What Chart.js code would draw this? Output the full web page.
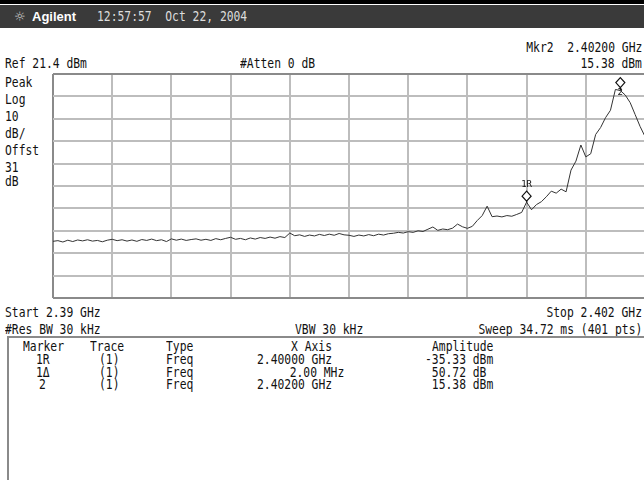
<!DOCTYPE html>
<html>
<head>
<meta charset="utf-8">
<script src="https://cdn.jsdelivr.net/npm/chart.js@4"></script>
<style>
  body { margin: 0; width: 644px; height: 480px; overflow: hidden; background: #fff; position: relative; }
  #top { position: absolute; left: 0; top: 0; width: 644px; height: 4px; background: #000; }
  #band { position: absolute; left: 0; top: 5px; width: 644px; height: 23px; background: #3a3a3a; }
  .t, .r { position: absolute; font-family: "DejaVu Sans Mono", monospace; font-size: 14px; line-height: 14px;
           white-space: pre; color: #111; transform: scaleX(0.81); }
  .t { transform-origin: left center; }
  .r { right: 2px; transform-origin: right center; }
  #logo { position: absolute; left: 14px; top: 9px; color: #ccc; font: 13px "DejaVu Sans"; }
  #brand { position: absolute; left: 32px; top: 9px; color: #fff; font: bold 13px "Liberation Sans", sans-serif; }
  #box { position: absolute; left: 7px; top: 336px; width: 650px; height: 160px; border: 2px solid #8a8a8a; box-sizing: border-box; }
  canvas { position: absolute; left: 0; top: 0; }
</style>
</head>
<body>
<div id="top"></div>
<div id="band"></div>
<div id="logo">☼</div>
<div id="brand">Agilent</div>
<div class="t" style="left:97px;top:9px;color:#ddd">12:57:57  Oct 22, 2004</div>

<div class="r" style="top:40px">Mkr2  2.40200 GHz</div>
<div class="t" style="left:5px;top:56px">Ref 21.4 dBm</div>
<div class="t" style="left:240px;top:56px">#Atten 0 dB</div>
<div class="r" style="top:56px">15.38 dBm</div>

<div class="t" style="left:5px;top:75px">Peak</div>
<div class="t" style="left:5px;top:92px">Log</div>
<div class="t" style="left:5px;top:109px">10</div>
<div class="t" style="left:5px;top:126px">dB/</div>
<div class="t" style="left:5px;top:143px">Offst</div>
<div class="t" style="left:5px;top:160px">31</div>
<div class="t" style="left:5px;top:174px">dB</div>

<div class="t" style="left:5px;top:305px">Start 2.39 GHz</div>
<div class="r" style="top:305px">Stop 2.402 GHz</div>
<div class="t" style="left:5px;top:322px">#Res BW 30 kHz</div>
<div class="t" style="left:295px;top:322px">VBW 30 kHz</div>
<div class="r" style="top:322px">Sweep 34.72 ms (401 pts)</div>

<div id="box"></div>
<div class="t" style="left:23px;top:339px">Marker</div>
<div class="t" style="left:90px;top:339px">Trace</div>
<div class="t" style="left:166px;top:339px">Type</div>
<div class="t" style="left:291px;top:339px">X Axis</div>
<div class="t" style="left:432px;top:339px">Amplitude</div>

<div class="t" style="left:36px;top:352px">1R</div>
<div class="t" style="left:99px;top:352px">(1)</div>
<div class="t" style="left:166px;top:352px">Freq</div>
<div class="t" style="left:257px;top:352px">2.40000 GHz</div>
<div class="t" style="left:425px;top:352px">-35.33 dBm</div>

<div class="t" style="left:36px;top:365px">1Δ</div>
<div class="t" style="left:99px;top:365px">(1)</div>
<div class="t" style="left:166px;top:365px">Freq</div>
<div class="t" style="left:276px;top:365px">  2.00 MHz</div>
<div class="t" style="left:425px;top:365px"> 50.72 dB</div>

<div class="t" style="left:39px;top:377px">2</div>
<div class="t" style="left:99px;top:377px">(1)</div>
<div class="t" style="left:166px;top:377px">Freq</div>
<div class="t" style="left:257px;top:377px">2.40200 GHz</div>
<div class="t" style="left:425px;top:377px"> 15.38 dBm</div>

<canvas id="spec" width="650" height="480"></canvas>

<script>
// frequency points (MHz) and trace level (dBm)
const freqMHz = [
  2390.0, 2390.1, 2390.2, 2390.3, 2390.4, 2390.5, 2390.6, 2390.7, 2390.8, 2390.9,
  2391.0, 2391.1, 2391.2, 2391.3, 2391.4, 2391.5, 2391.6, 2391.7, 2391.8, 2391.9,
  2392.0, 2392.1, 2392.2, 2392.3, 2392.4, 2392.5, 2392.6, 2392.7, 2392.8, 2392.9,
  2393.0, 2393.1, 2393.2, 2393.3, 2393.4, 2393.5, 2393.6, 2393.7, 2393.8, 2393.9,
  2394.0, 2394.1, 2394.2, 2394.3, 2394.4, 2394.5, 2394.6, 2394.7, 2394.8, 2394.9,
  2395.0, 2395.1, 2395.2, 2395.3, 2395.4, 2395.5, 2395.6, 2395.7, 2395.8, 2395.9,
  2396.0, 2396.1, 2396.2, 2396.3, 2396.4, 2396.5, 2396.6, 2396.7, 2396.8, 2396.9,
  2397.0, 2397.1, 2397.2, 2397.3, 2397.4, 2397.5, 2397.6, 2397.7, 2397.8, 2397.9,
  2398.0, 2398.1, 2398.2, 2398.3, 2398.4, 2398.5, 2398.6, 2398.7, 2398.8, 2398.9,
  2399.0, 2399.1, 2399.2, 2399.3, 2399.4, 2399.5, 2399.6, 2399.7, 2399.8, 2399.9,
  2400.0, 2400.1, 2400.2, 2400.3, 2400.4, 2400.5, 2400.6, 2400.7, 2400.8, 2400.9,
  2401.0, 2401.1, 2401.2, 2401.3, 2401.4, 2401.5, 2401.6, 2401.7, 2401.8, 2401.9,
  2402.0
];
const levelDbm = [
  -53.3, -53.0, -53.6, -52.8, -53.4, -52.7, -53.1, -52.6, -53.2, -52.9,
  -53.5, -52.8, -52.4, -53.0, -52.6, -53.2, -52.7, -53.3, -52.5, -52.9,
  -52.3, -53.0, -52.6, -53.4, -52.2, -52.8, -52.3, -52.9, -52.5, -52.2,
  -52.8, -52.4, -52.9, -52.1, -52.6, -52.0, -51.5, -52.4, -52.0, -52.6,
  -51.8, -52.3, -51.6, -52.0, -51.4, -51.9, -51.2, -51.6, -49.6, -50.8,
  -50.4, -51.1, -50.5, -50.9, -50.2, -50.7, -50.1, -50.6, -49.8, -50.4,
  -50.6, -51.1, -50.5, -50.9, -50.3, -50.8, -50.1, -50.5, -49.9, -49.7,
  -49.3, -49.6, -49.0, -49.3, -48.6, -48.9, -47.9, -46.9, -48.4, -47.8,
  -48.1, -47.4, -45.6, -46.8, -47.5, -46.6, -44.0, -41.8, -37.6, -42.3,
  -42.0, -42.4, -41.8, -42.1, -41.3, -40.4, -35.8, -39.2, -36.9, -35.6,
  -33.4, -30.9, -31.8, -30.0, -31.2, -21.5, -17.5, -10.3, -15.6, -14.2,
  -5.6, -2.5, 1.9, 5.2, 14.5, 14.0, 12.0, 8.6, 3.3, -2.0,
  -6.5
];

// graticule: 10 divisions each way
const xTicks = [2390, 2391.2, 2392.4, 2393.6, 2394.8, 2396, 2397.2, 2398.4, 2399.6, 2400.8, 2402];
const yTicks = [-78.6, -68.6, -58.6, -48.6, -38.6, -28.6, -18.6, -8.6, 1.4, 11.4, 21.4];

// markers as placed on screen
const markerNames = ["1R", "2"];
const markerFreqs = [2399.6, 2401.5];

const gridColor = ctx => (ctx.index === 0 || ctx.index === 10) ? "#8a8a8a" : "#bdbdbd";

const markerPlugin = {
  id: "markers",
  afterDatasetsDraw(chart) {
    const ctx = chart.ctx;
    const xs = chart.scales.x, ys = chart.scales.y;
    ctx.save();
    ctx.strokeStyle = "#111";
    ctx.fillStyle = "#111";
    ctx.lineWidth = 1.2;
    markerFreqs.forEach((f, i) => {
      const k = freqMHz.indexOf(f);
      const px = xs.getPixelForValue(f);
      const py = ys.getPixelForValue(levelDbm[k]);
      const top = i === 0;
      const cy = top ? py - 6 : py - 8;
      ctx.beginPath();
      ctx.moveTo(px, cy - 5);
      ctx.lineTo(px + 4.5, cy);
      ctx.lineTo(px, cy + 5);
      ctx.lineTo(px - 4.5, cy);
      ctx.closePath();
      ctx.fillStyle = "#fff";
      ctx.fill();
      ctx.stroke();
      ctx.beginPath();
      ctx.moveTo(px, cy + 5);
      ctx.lineTo(px, py);
      ctx.stroke();
      ctx.fillStyle = "#111";
      ctx.font = "9px 'DejaVu Sans Mono'";
      ctx.textAlign = "center";
      ctx.textBaseline = "middle";
      if (top) ctx.fillText(markerNames[i], px, cy - 11);
      else ctx.fillText(markerNames[i], px, cy + 10);
    });
    ctx.restore();
  }
};

new Chart(document.getElementById("spec"), {
  type: "line",
  data: {
    datasets: [{
      data: freqMHz.map((f, i) => ({ x: f, y: levelDbm[i] })),
      borderColor: "#333",
      borderWidth: 1,
      pointRadius: 0,
      tension: 0,
      fill: false
    }]
  },
  options: {
    responsive: false,
    animation: false,
    devicePixelRatio: 1,
    layout: { padding: { left: 53, top: 74, right: 5, bottom: 182 } },
    plugins: { legend: { display: false }, tooltip: { enabled: false } },
    scales: {
      x: {
        type: "linear", min: 2390, max: 2402,
        afterBuildTicks: axis => { axis.ticks = xTicks.map(v => ({ value: v })); },
        ticks: { display: false },
        grid: { color: gridColor, lineWidth: 2, drawTicks: false },
        border: { display: false }
      },
      y: {
        min: -78.6, max: 21.4,
        afterBuildTicks: axis => { axis.ticks = yTicks.map(v => ({ value: v })); },
        ticks: { display: false },
        grid: { color: gridColor, lineWidth: 2, drawTicks: false },
        border: { display: false }
      }
    }
  },
  plugins: [markerPlugin]
});
</script>
</body>
</html>
